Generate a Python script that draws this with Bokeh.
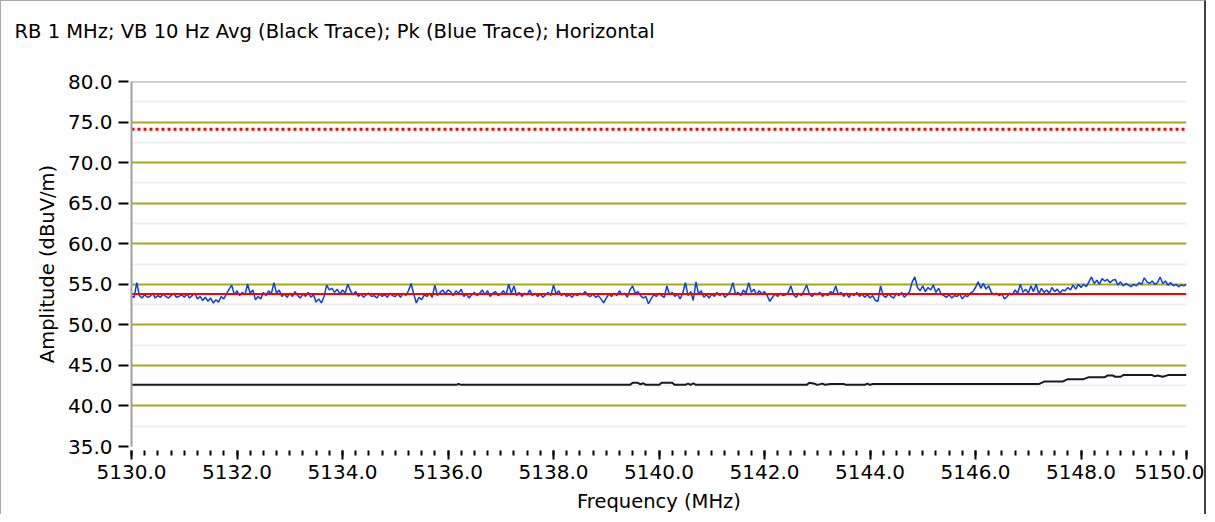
from bokeh.plotting import figure
from bokeh.models import FixedTicker, PrintfTickFormatter, Span
from bokeh.embed import file_html
from bokeh.resources import INLINE

title_text = "RB 1 MHz; VB 10 Hz Avg (Black Trace); Pk (Blue Trace); Horizontal"
x_label = "Frequency (MHz)"
y_label = "Amplitude (dBuV/m)"

x_start, x_end = 5130.0, 5150.0
y_start, y_end = 35.0, 80.0
x_major = [5130, 5132, 5134, 5136, 5138, 5140, 5142, 5144, 5146, 5148, 5150]
y_major = [35, 40, 45, 50, 55, 60, 65, 70, 75, 80]

peak_limit = 74.1
avg_limit = 53.8

# Peak trace (blue), 0.05 MHz steps from 5130.00 to 5150.00
blue_step = 0.05
blue_values = [
    53.5, 53.4, 55.2, 53.6, 53.3, 53.7, 53.4, 53.5, 53.9, 53.3, 53.6, 53.4, 53.8, 53.5, 53.3, 53.6, 53.9, 53.4, 53.5, 53.7,
    53.4, 53.8, 53.3, 53.6, 53.9, 53.2, 53.5, 53.0, 53.4, 52.9, 53.3, 52.7, 53.1, 52.8, 53.5, 53.2, 53.8, 54.4, 54.9, 53.7,
    54.2, 53.6, 54.0, 53.7, 55.0, 53.9, 54.3, 53.1, 53.5, 53.2, 54.0, 53.6, 54.2, 53.8, 55.2, 53.9, 54.3, 53.5, 53.8, 53.4,
    53.9, 53.5, 54.1, 53.6, 53.3, 53.8, 53.5, 54.0, 53.4, 53.7, 52.8, 53.2, 52.7, 53.5, 54.9, 54.3, 54.5, 54.0, 54.4, 53.8,
    54.3, 53.9, 55.0, 54.2, 53.7, 54.1, 53.5, 53.8, 53.4, 53.7, 53.9, 53.5, 53.6, 53.3, 53.8, 53.5, 53.7, 53.4, 53.9, 53.6,
    53.5, 53.8, 53.4, 53.9, 53.6, 54.2, 55.1, 53.8, 52.7, 53.4, 53.1, 53.7, 53.5, 53.9, 53.4, 54.9, 53.6, 54.0, 54.3, 53.8,
    54.3, 54.1, 53.6, 54.2, 53.9, 54.4, 53.5, 53.8, 53.3, 53.7, 54.0, 53.6, 53.9, 54.3, 53.7, 54.2, 53.5, 53.9, 54.1, 53.6,
    53.8, 54.2, 53.7, 55.0, 53.9, 54.8, 53.6, 54.0, 53.5, 53.9, 53.7, 54.3, 53.6, 53.9, 53.5, 53.8, 53.4, 53.7, 54.0, 53.6,
    54.9, 53.8, 54.2, 53.6, 53.9, 53.5, 53.7, 53.4, 53.8, 53.6, 53.9, 53.7, 54.1, 53.6, 53.5, 53.8, 53.4, 53.6, 53.2, 52.7,
    53.3, 53.8, 53.5, 53.9, 53.6, 54.2, 53.7, 53.9, 53.4, 54.3, 54.8, 53.9, 54.1, 53.6, 53.3, 53.5, 52.6, 53.2, 53.7, 53.5,
    53.9, 53.6, 53.4, 54.8, 53.7, 54.0, 53.5, 53.8, 53.2, 53.9, 55.2, 53.6, 54.1, 53.0, 55.3, 53.8, 54.2, 53.4, 53.7, 53.3,
    53.8, 53.5, 54.0, 53.6, 53.9, 53.4, 53.7, 54.1, 55.2, 53.8, 54.0, 53.6, 54.3, 53.9, 55.2, 54.0, 54.4, 53.7, 54.2, 53.8,
    54.1, 53.6, 52.9, 53.4, 53.8, 53.5, 53.9, 53.6, 53.7, 54.0, 54.8, 53.7, 53.4, 53.9, 53.6, 54.2, 54.9, 53.8, 53.5, 53.9,
    53.7, 54.0, 53.5, 53.8, 53.6, 54.1, 53.9, 54.8, 53.7, 54.0, 53.5, 53.9, 53.4, 53.8, 53.6, 54.0, 53.5, 53.8, 53.4, 53.7,
    53.3, 53.6, 53.0, 52.9, 54.8, 53.6, 53.4, 53.8, 53.5, 53.3, 53.9, 53.6, 54.0, 53.4, 53.7, 54.1, 55.3, 55.9, 54.6, 54.2,
    54.8, 54.1, 54.6, 54.3, 54.9, 54.0, 54.5, 53.8, 53.6, 53.4, 53.7, 53.3, 53.6, 53.5, 53.8, 53.2, 53.6, 53.5, 53.9, 54.1,
    54.6, 55.3, 54.5, 55.1, 54.4, 54.8, 54.0, 53.7, 53.9, 53.6, 53.8, 53.2, 53.5, 53.9, 53.7, 54.3, 53.9, 55.0, 54.0, 54.4,
    53.9, 54.8, 54.1, 55.0, 53.8, 54.5, 54.0, 54.3, 53.9, 54.6, 54.1, 54.4, 53.9, 54.3, 54.2, 54.6, 54.3, 54.9, 54.4, 55.0,
    54.6, 55.0, 54.7, 55.3, 55.9, 55.1, 55.5, 55.0, 55.7, 55.4, 55.6, 55.2, 55.5, 55.6, 54.9, 55.3, 54.8, 55.1, 54.9, 54.7,
    55.0, 54.8, 55.2, 55.0, 55.8, 55.3, 55.1, 55.4, 55.0, 55.2, 55.9, 55.1, 55.4, 54.9, 55.2, 54.8, 55.0, 54.7, 54.9, 54.8,
    55.0,
]
blue_freq = [round(x_start + i * blue_step, 2) for i in range(len(blue_values))]

# Average trace (black), breakpoints
black_freq = [
    5130.0, 5136.15, 5136.2, 5136.25, 5139.45, 5139.5, 5139.6, 5139.65, 5139.7, 5139.75,
    5140.0, 5140.05, 5140.25, 5140.3, 5140.5, 5140.55, 5140.6, 5140.65, 5140.7, 5142.8,
    5142.85, 5142.95, 5143.0, 5143.1, 5143.15, 5143.25, 5143.5, 5143.55, 5143.9, 5143.95,
    5144.0, 5144.05, 5147.2, 5147.3, 5147.65, 5147.75, 5148.05, 5148.15, 5148.45, 5148.5,
    5148.6, 5148.65, 5148.75, 5148.8, 5149.35, 5149.4, 5149.45, 5149.55, 5149.65, 5150.0,
]
black_values = [
    42.6, 42.6, 42.7, 42.6, 42.6, 42.85, 42.85, 42.65, 42.8, 42.6,
    42.6, 42.85, 42.85, 42.6, 42.6, 42.75, 42.6, 42.8, 42.6, 42.6,
    42.85, 42.75, 42.6, 42.75, 42.6, 42.7, 42.7, 42.6, 42.6, 42.75,
    42.6, 42.7, 42.7, 43.0, 43.0, 43.3, 43.3, 43.55, 43.55, 43.75,
    43.75, 43.6, 43.6, 43.8, 43.8, 43.65, 43.75, 43.6, 43.8, 43.8,
]

FONT = "DejaVu Sans"

p = figure(width=1206, height=514, output_backend="svg", toolbar_location=None,
           x_range=(x_start, x_end), y_range=(y_start, y_end))
p.min_border_left = 130
p.min_border_right = 21
p.min_border_top = 80
p.min_border_bottom = 67
p.outline_line_color = None
p.background_fill_color = "white"
p.border_fill_color = "white"
p.styles = {"border-left": "1px solid #a8a8a8", "border-top": "1px solid #a8a8a8",
            "border-right": "2px solid #404040"}

# title: a trailing empty line lifts the text to the top of the header band
p.title.text = title_text + "\n"
p.title.text_font = FONT
p.title.text_font_size = "19.5px"
p.title.text_font_style = "normal"
p.title.text_color = "#000000"
p.title.align = "left"
p.title.vertical_align = "top"
p.title.offset = -117
p.title.standoff = 28

# grid
p.xgrid.visible = False
p.ygrid.ticker = FixedTicker(ticks=[40, 45, 50, 55, 60, 65, 70, 75],
                             minor_ticks=[37.5, 42.5, 47.5, 52.5, 57.5, 62.5, 67.5, 72.5, 77.5])
p.ygrid.grid_line_color = "#a8a81c"
p.ygrid.grid_line_width = 2
p.ygrid.minor_grid_line_color = "#eeeeee"
p.ygrid.minor_grid_line_width = 2

top_line = Span(location=y_end, dimension="width", line_color="#a0a0a0", line_width=2)
p.add_layout(top_line)

# axes
xa = p.xaxis[0]
xa.ticker = FixedTicker(ticks=x_major,
                        minor_ticks=[x_start + 0.25 * i for i in range(81)])
xa.formatter = PrintfTickFormatter(format="%.1f")
xa.axis_line_color = None
xa.major_tick_in = -4
xa.major_tick_out = 13
xa.minor_tick_in = -4
xa.minor_tick_out = 9
xa.major_tick_line_color = "#000000"
xa.minor_tick_line_color = "#000000"
xa.major_tick_line_width = 2
xa.minor_tick_line_width = 2
xa.major_label_standoff = 5
xa.axis_label = x_label
xa.axis_label_standoff = 8

ya = p.yaxis[0]
ya.ticker = FixedTicker(ticks=y_major)
ya.formatter = PrintfTickFormatter(format="%.1f")
ya.axis_line_color = "#a0a0a0"
ya.axis_line_width = 2
ya.major_tick_in = -3
ya.major_tick_out = 13
ya.major_tick_line_color = "#000000"
ya.major_tick_line_width = 2
ya.minor_tick_line_color = None
ya.major_label_standoff = 6
ya.axis_label = y_label
ya.axis_label_standoff = 6

for ax in (xa, ya):
    ax.major_label_text_font = FONT
    ax.major_label_text_font_size = "20px"
    ax.major_label_text_color = "#000000"
    ax.axis_label_text_font = FONT
    ax.axis_label_text_font_size = "19.5px"
    ax.axis_label_text_font_style = "normal"
    ax.axis_label_text_color = "#000000"

# traces
p.line(black_freq, black_values, line_color="#1a1a1a", line_width=2)
p.line(blue_freq, blue_values, line_color="#0a3cf0", line_width=1.5)
p.line([x_start, x_end], [avg_limit, avg_limit], line_color="#ff0000", line_width=2)
p.line([x_start, x_end], [peak_limit, peak_limit], line_color="#ff0000", line_width=3,
       line_dash="3 3")

open("out.html", "w").write(file_html(p, INLINE))
